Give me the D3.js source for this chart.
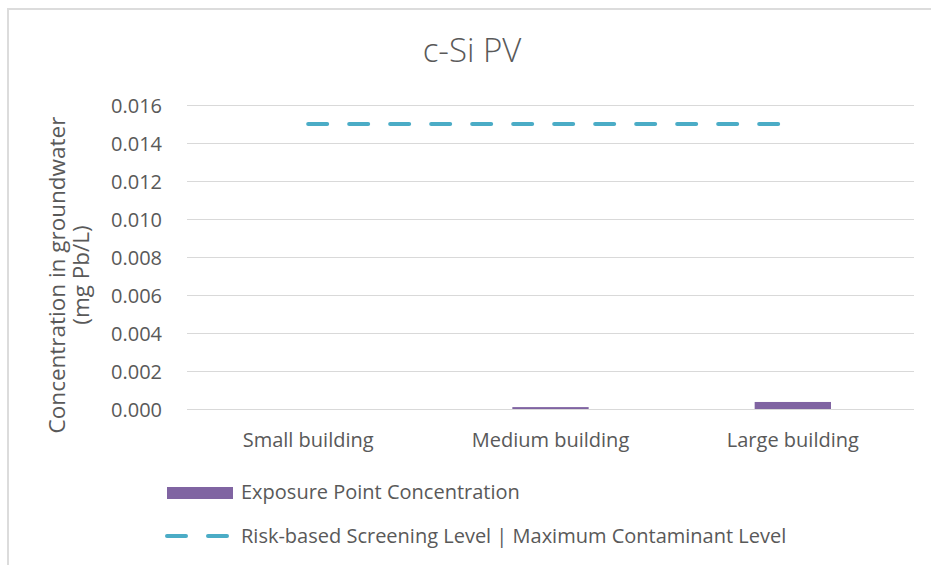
<!DOCTYPE html>
<html>
<head>
<meta charset="utf-8">
<script src="https://cdn.jsdelivr.net/npm/d3@7"></script>
<style>
  html, body { margin: 0; padding: 0; background: #fff; }
  svg text { font-family: "Open Sans", Lato, sans-serif; fill: #595959; }
</style>
</head>
<body>
<svg id="chart" width="931" height="565"></svg>
<script>
// Chart data
const categories = ["Small building", "Medium building", "Large building"];
const exposureValues = [0.0, 0.0001, 0.00037];
const screeningLevel = [0.015, 0.015, 0.015];
const yTicks = [0, 0.002, 0.004, 0.006, 0.008, 0.010, 0.012, 0.014, 0.016];
const seriesNames = ["Exposure Point Concentration", "Risk-based Screening Level | Maximum Contaminant Level"];

const purple = "#8064A2";
const blue = "#4BACC6";
const grid = "#d9d9d9";
const font = '"Open Sans", Lato, sans-serif';

const svg = d3.select("#chart");

// outer chart frame
svg.append("rect")
  .attr("x", 8).attr("y", 9)
  .attr("width", 940).attr("height", 570)
  .attr("fill", "none").attr("stroke", "#dcdcdc").attr("stroke-width", 2);

const plot = { left: 187, right: 914, top: 105, bottom: 409 };

const x = d3.scaleBand().domain(categories).range([plot.left, plot.right]).paddingInner(0).paddingOuter(0);
const y = d3.scaleLinear().domain([0, 0.016]).range([plot.bottom, plot.top]);

// gridlines
svg.append("g").selectAll("line").data(yTicks).join("line")
  .attr("x1", plot.left).attr("x2", plot.right)
  .attr("y1", d => Math.round(y(d)) + 0.5).attr("y2", d => Math.round(y(d)) + 0.5)
  .attr("stroke", grid).attr("stroke-width", 1);

// y tick labels
const yAxis = d3.axisLeft(y).tickValues(yTicks).tickFormat(d3.format(".3f")).tickSize(0).tickPadding(0);
const gy = svg.append("g").attr("transform", `translate(162,0)`).call(yAxis);
gy.select(".domain").remove();
gy.selectAll("text").attr("font-size", 20).attr("fill", "#595959")
  .style("font-family", font).attr("dy", "0.36em");

// x category labels
const xAxis = d3.axisBottom(x).tickSize(0).tickPadding(0);
const gx = svg.append("g").attr("transform", `translate(0,${plot.bottom + 38})`).call(xAxis);
gx.select(".domain").remove();
gx.selectAll("text").attr("font-size", 20).attr("fill", "#595959")
  .style("font-family", font).attr("dy", "0");

// bars
const barW = x.bandwidth() * 0.315;
svg.append("g").selectAll("rect").data(exposureValues).join("rect")
  .attr("x", (d, i) => x(categories[i]) + x.bandwidth() / 2 - barW / 2)
  .attr("width", barW)
  .attr("y", d => y(d))
  .attr("height", d => y(0) - y(d))
  .attr("fill", purple);

// screening level dashed line
const line = d3.line()
  .x((d, i) => x(categories[i]) + x.bandwidth() / 2)
  .y(d => y(d));
svg.append("path").datum(screeningLevel)
  .attr("d", line)
  .attr("fill", "none").attr("stroke", blue).attr("stroke-width", 4)
  .attr("stroke-linecap", "round").attr("stroke-dasharray", "19 22");

// title
svg.append("text").attr("x", 472).attr("y", 62).attr("text-anchor", "middle")
  .attr("font-size", 33).style("font-weight", 300).text("c-Si PV");

// y axis title
const yt = svg.append("text").attr("transform", `translate(0,275) rotate(-90)`)
  .attr("text-anchor", "middle").attr("font-size", 22.5);
yt.append("tspan").attr("x", 0).attr("y", 65).text("Concentration in groundwater");
yt.append("tspan").attr("x", 0).attr("y", 89).text("(mg Pb/L)");

// legend
const lg = svg.append("g");
lg.append("rect").attr("x", 167).attr("y", 487).attr("width", 66).attr("height", 12).attr("fill", purple);
lg.append("text").attr("x", 241).attr("y", 499).attr("font-size", 20).text(seriesNames[0]);
lg.append("line").attr("x1", 167).attr("x2", 227).attr("y1", 536).attr("y2", 536)
  .attr("stroke", blue).attr("stroke-width", 4).attr("stroke-linecap", "round").attr("stroke-dasharray", "19 22");
lg.append("text").attr("x", 241).attr("y", 543).attr("font-size", 20).text(seriesNames[1]);
</script>
</body>
</html>
